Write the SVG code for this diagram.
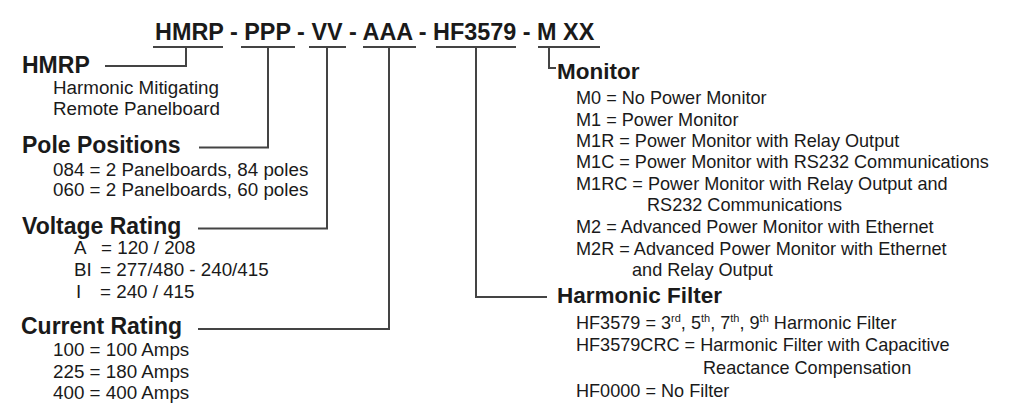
<svg xmlns="http://www.w3.org/2000/svg" width="1016" height="408" viewBox="0 0 1016 408">
<style>
.t{font-family:"Liberation Sans",Arial,sans-serif;fill:#1a1a1a}
.title{font-size:23.4px;font-weight:bold}
.h{font-size:23px;font-weight:bold}
.hr{font-size:22.5px;font-weight:bold}
.b{font-size:18.8px}
.br{font-size:18.1px}
.sup{font-size:11px}
.c{fill:none;stroke:#444;stroke-width:2}
</style>
<rect width="1016" height="408" fill="#ffffff"/>
<g id="title"><text class="t title" x="155" y="40">HMRP - PPP - VV - AAA - HF3579 - M XX</text></g>
<g id="connectors">
<path class="c" d="M153 47H223M186 47V66H105"/>
<path class="c" d="M241 47H295M268 47V147.5H199"/>
<path class="c" d="M309 47H346M327 47V228.5H198"/>
<path class="c" d="M363 47H416M389 47V329H198"/>
<path class="c" d="M436 47H516M476 47V297H547"/>
<path class="c" d="M538 47H600M549 47V68H556"/>
</g>
<g id="hmrp">
<text class="t h" x="22" y="73">HMRP</text>
<text class="t b" x="53" y="93.5">Harmonic Mitigating</text>
<text class="t b" x="53" y="115">Remote Panelboard</text>
</g>
<g id="pole">
<text class="t h" x="22" y="152.5">Pole Positions</text>
<text class="t b" x="53" y="176">084 = 2 Panelboards, 84 poles</text>
<text class="t b" x="53" y="196">060 = 2 Panelboards, 60 poles</text>
</g>
<g id="voltage">
<text class="t h" x="22" y="234">Voltage Rating</text>
<text class="t b" y="254"><tspan x="74">A</tspan><tspan x="101">= 120 / 208</tspan></text>
<text class="t b" y="276"><tspan x="74">BI</tspan><tspan x="100">= 277/480 - 240/415</tspan></text>
<text class="t b" y="297.5"><tspan x="76">I</tspan><tspan x="100">= 240 / 415</tspan></text>
</g>
<g id="current">
<text class="t h" x="21" y="334">Current Rating</text>
<text class="t b" x="53" y="356">100 = 100 Amps</text>
<text class="t b" x="53" y="377.5">225 = 180 Amps</text>
<text class="t b" x="53" y="398.5">400 = 400 Amps</text>
</g>
<g id="monitor">
<text class="t hr" x="557" y="79">Monitor</text>
<text class="t br" x="576" y="104">M0 = No Power Monitor</text>
<text class="t br" x="576" y="125.5">M1 = Power Monitor</text>
<text class="t br" x="576" y="146.5">M1R = Power Monitor with Relay Output</text>
<text class="t br" x="576" y="168">M1C = Power Monitor with RS232 Communications</text>
<text class="t br" x="576" y="189.5">M1RC = Power Monitor with Relay Output and</text>
<text class="t br" x="647" y="211">RS232 Communications</text>
<text class="t br" x="576" y="233">M2 = Advanced Power Monitor with Ethernet</text>
<text class="t br" x="576" y="254.5">M2R = Advanced Power Monitor with Ethernet</text>
<text class="t br" x="632" y="276">and Relay Output</text>
</g>
<g id="filter">
<text class="t hr" x="557" y="303">Harmonic Filter</text>
<text class="t br" x="576" y="329">HF3579 = 3<tspan class="sup" dy="-7">rd</tspan><tspan dy="7">, 5</tspan><tspan class="sup" dy="-7">th</tspan><tspan dy="7">, 7</tspan><tspan class="sup" dy="-7">th</tspan><tspan dy="7">, 9</tspan><tspan class="sup" dy="-7">th</tspan><tspan dy="7"> Harmonic Filter</tspan></text>
<text class="t br" x="576" y="351">HF3579CRC = Harmonic Filter with Capacitive</text>
<text class="t br" x="703" y="373.5">Reactance Compensation</text>
<text class="t br" x="576" y="396.5">HF0000 = No Filter</text>
</g>
</svg>
